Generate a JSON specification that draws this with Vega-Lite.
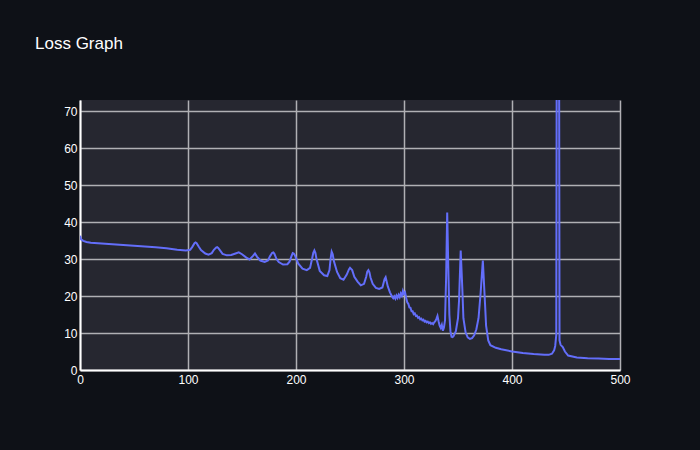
{
  "$schema": "https://vega.github.io/schema/vega-lite/v6.json",
  "width": 540,
  "height": 270,
  "autosize": {"type": "none"},
  "padding": {"left": 80, "top": 100, "right": 80, "bottom": 80},
  "background": "#0e1117",
  "title": {
    "text": "Loss Graph",
    "anchor": "start",
    "frame": "group",
    "dx": -45,
    "offset": 47,
    "font": "Liberation Sans",
    "fontSize": 17,
    "fontWeight": "normal",
    "color": "#ffffff"
  },
  "config": {
    "view": {"fill": "#262730", "stroke": null},
    "axis": {
      "labelFont": "Liberation Sans",
      "labelFontSize": 12,
      "labelColor": "#ffffff",
      "gridColor": "#b0b0b4",
      "gridWidth": 1.5,
      "domainColor": "#ffffff",
      "domainWidth": 2,
      "ticks": false,
      "title": null
    }
  },
  "data": {
    "values": [
      {"step": 0, "loss": 36.3}, {"step": 1, "loss": 35.3}, {"step": 3, "loss": 34.9}, {"step": 6, "loss": 34.6},
      {"step": 10, "loss": 34.4}, {"step": 20, "loss": 34.2}, {"step": 30, "loss": 34.0}, {"step": 40, "loss": 33.8},
      {"step": 50, "loss": 33.6}, {"step": 60, "loss": 33.4}, {"step": 70, "loss": 33.2}, {"step": 80, "loss": 32.9},
      {"step": 90, "loss": 32.5}, {"step": 98, "loss": 32.3}, {"step": 102, "loss": 32.5}, {"step": 104, "loss": 33.3},
      {"step": 106, "loss": 34.3}, {"step": 107, "loss": 34.5}, {"step": 108, "loss": 34.3}, {"step": 110, "loss": 33.3},
      {"step": 112, "loss": 32.4}, {"step": 116, "loss": 31.5},
      {"step": 119, "loss": 31.2}, {"step": 122, "loss": 31.6}, {"step": 124, "loss": 32.5}, {"step": 126, "loss": 33.1},
      {"step": 127, "loss": 33.2}, {"step": 128, "loss": 33.0},
      {"step": 130, "loss": 32.2}, {"step": 132, "loss": 31.4}, {"step": 136, "loss": 31.0}, {"step": 140, "loss": 31.1},
      {"step": 144, "loss": 31.5}, {"step": 147, "loss": 31.8}, {"step": 150, "loss": 31.3}, {"step": 154, "loss": 30.4},
      {"step": 157, "loss": 29.9}, {"step": 160, "loss": 30.8}, {"step": 162, "loss": 31.5}, {"step": 164, "loss": 30.6},
      {"step": 167, "loss": 29.6}, {"step": 171, "loss": 29.2}, {"step": 174, "loss": 29.6}, {"step": 176, "loss": 30.8},
      {"step": 178, "loss": 31.7}, {"step": 179, "loss": 31.8}, {"step": 180, "loss": 31.4},
      {"step": 182, "loss": 30.0}, {"step": 184, "loss": 29.2}, {"step": 188, "loss": 28.5},
      {"step": 192, "loss": 28.6}, {"step": 194, "loss": 29.3}, {"step": 196, "loss": 30.9}, {"step": 197, "loss": 31.6},
      {"step": 198, "loss": 31.5}, {"step": 199, "loss": 31.0},
      {"step": 202, "loss": 28.8}, {"step": 206, "loss": 27.4}, {"step": 210, "loss": 27.0}, {"step": 213, "loss": 27.6},
      {"step": 215, "loss": 30.2}, {"step": 216, "loss": 31.7}, {"step": 217, "loss": 32.3}, {"step": 218, "loss": 31.6},
      {"step": 219, "loss": 30.0}, {"step": 222, "loss": 26.8},
      {"step": 226, "loss": 25.6}, {"step": 229, "loss": 25.4}, {"step": 231, "loss": 27.0}, {"step": 232, "loss": 30.0},
      {"step": 233, "loss": 32.0}, {"step": 234, "loss": 31.3},
      {"step": 235, "loss": 29.5}, {"step": 238, "loss": 26.5}, {"step": 241, "loss": 24.8}, {"step": 244, "loss": 24.4},
      {"step": 247, "loss": 25.8}, {"step": 249, "loss": 27.2}, {"step": 250, "loss": 27.6}, {"step": 252, "loss": 27.0}, {"step": 254, "loss": 25.2},
      {"step": 257, "loss": 23.9}, {"step": 260, "loss": 22.9}, {"step": 263, "loss": 23.3}, {"step": 265, "loss": 25.2},
      {"step": 266, "loss": 26.6}, {"step": 267, "loss": 27.0}, {"step": 268, "loss": 26.4}, {"step": 269, "loss": 25.0}, {"step": 271, "loss": 23.3}, {"step": 274, "loss": 22.2},
      {"step": 277, "loss": 21.9}, {"step": 280, "loss": 22.3}, {"step": 282, "loss": 24.6}, {"step": 283, "loss": 25.1},
      {"step": 285, "loss": 22.6}, {"step": 287, "loss": 21.0}, {"step": 289, "loss": 19.8}, {"step": 290, "loss": 19.4},
      {"step": 291, "loss": 19.9}, {"step": 292, "loss": 19.3}, {"step": 293, "loss": 20.1}, {"step": 294, "loss": 19.5},
      {"step": 295, "loss": 20.3}, {"step": 296, "loss": 19.7}, {"step": 297, "loss": 20.7}, {"step": 298, "loss": 20.1},
      {"step": 299, "loss": 21.4}, {"step": 300, "loss": 20.6}, {"step": 301, "loss": 21.0}, {"step": 302, "loss": 19.5},
      {"step": 303, "loss": 18.3}, {"step": 304, "loss": 17.9}, {"step": 305, "loss": 16.9}, {"step": 306, "loss": 16.8},
      {"step": 307, "loss": 15.9}, {"step": 308, "loss": 15.9}, {"step": 309, "loss": 15.1}, {"step": 310, "loss": 15.3},
      {"step": 311, "loss": 14.6}, {"step": 312, "loss": 14.7}, {"step": 313, "loss": 14.1}, {"step": 314, "loss": 14.3},
      {"step": 315, "loss": 13.7}, {"step": 316, "loss": 13.9}, {"step": 317, "loss": 13.4}, {"step": 318, "loss": 13.6},
      {"step": 319, "loss": 13.1}, {"step": 320, "loss": 13.3}, {"step": 321, "loss": 12.9}, {"step": 322, "loss": 13.1},
      {"step": 323, "loss": 12.7}, {"step": 324, "loss": 12.9}, {"step": 325, "loss": 12.5}, {"step": 326, "loss": 12.7},
      {"step": 327, "loss": 12.4}, {"step": 328, "loss": 12.9}, {"step": 329, "loss": 13.2}, {"step": 330, "loss": 13.8},
      {"step": 331, "loss": 14.6}, {"step": 332, "loss": 13.2}, {"step": 333, "loss": 12.0}, {"step": 334, "loss": 11.4},
      {"step": 335, "loss": 12.2}, {"step": 336, "loss": 10.6}, {"step": 337, "loss": 11.5}, {"step": 338, "loss": 13.5},
      {"step": 339, "loss": 25.0}, {"step": 340, "loss": 42.6}, {"step": 341, "loss": 28.0}, {"step": 342, "loss": 15.0},
      {"step": 343, "loss": 10.5}, {"step": 344, "loss": 9.0}, {"step": 345, "loss": 8.9}, {"step": 346, "loss": 9.2},
      {"step": 348, "loss": 10.5}, {"step": 350, "loss": 14.0}, {"step": 351, "loss": 19.0}, {"step": 352.5, "loss": 32.3},
      {"step": 354, "loss": 22.0}, {"step": 355, "loss": 14.0}, {"step": 357, "loss": 10.2}, {"step": 359, "loss": 8.8},
      {"step": 361, "loss": 8.4}, {"step": 363, "loss": 8.6}, {"step": 365, "loss": 9.4}, {"step": 367, "loss": 11.0},
      {"step": 369, "loss": 14.0}, {"step": 371, "loss": 21.0}, {"step": 373, "loss": 29.6}, {"step": 375, "loss": 18.0},
      {"step": 376, "loss": 12.0}, {"step": 378, "loss": 8.0}, {"step": 380, "loss": 6.7}, {"step": 385, "loss": 6.0},
      {"step": 390, "loss": 5.6}, {"step": 400, "loss": 5.0}, {"step": 410, "loss": 4.6}, {"step": 420, "loss": 4.3},
      {"step": 430, "loss": 4.1}, {"step": 434, "loss": 4.1}, {"step": 437, "loss": 4.4}, {"step": 439, "loss": 5.3},
      {"step": 440, "loss": 6.5}, {"step": 441, "loss": 9.5}, {"step": 442.5, "loss": 300}, {"step": 444, "loss": 8.0},
      {"step": 445, "loss": 6.8}, {"step": 447, "loss": 6.2}, {"step": 449, "loss": 5.0}, {"step": 452, "loss": 3.9},
      {"step": 460, "loss": 3.4}, {"step": 470, "loss": 3.2}, {"step": 480, "loss": 3.1}, {"step": 490, "loss": 3.0},
      {"step": 496, "loss": 2.95}, {"step": 500, "loss": 3.0}
    ]
  },
  "mark": {"type": "line", "color": "#636efa", "strokeWidth": 2, "clip": true},
  "encoding": {
    "x": {
      "field": "step",
      "type": "quantitative",
      "scale": {"domain": [0, 500], "nice": false, "zero": false},
      "axis": {"values": [0, 100, 200, 300, 400, 500], "labelPadding": 4, "labelFlush": false}
    },
    "y": {
      "field": "loss",
      "type": "quantitative",
      "scale": {"domain": [0, 73], "nice": false},
      "axis": {"values": [0, 10, 20, 30, 40, 50, 60, 70], "labelPadding": 3, "labelFlush": false}
    }
  }
}
